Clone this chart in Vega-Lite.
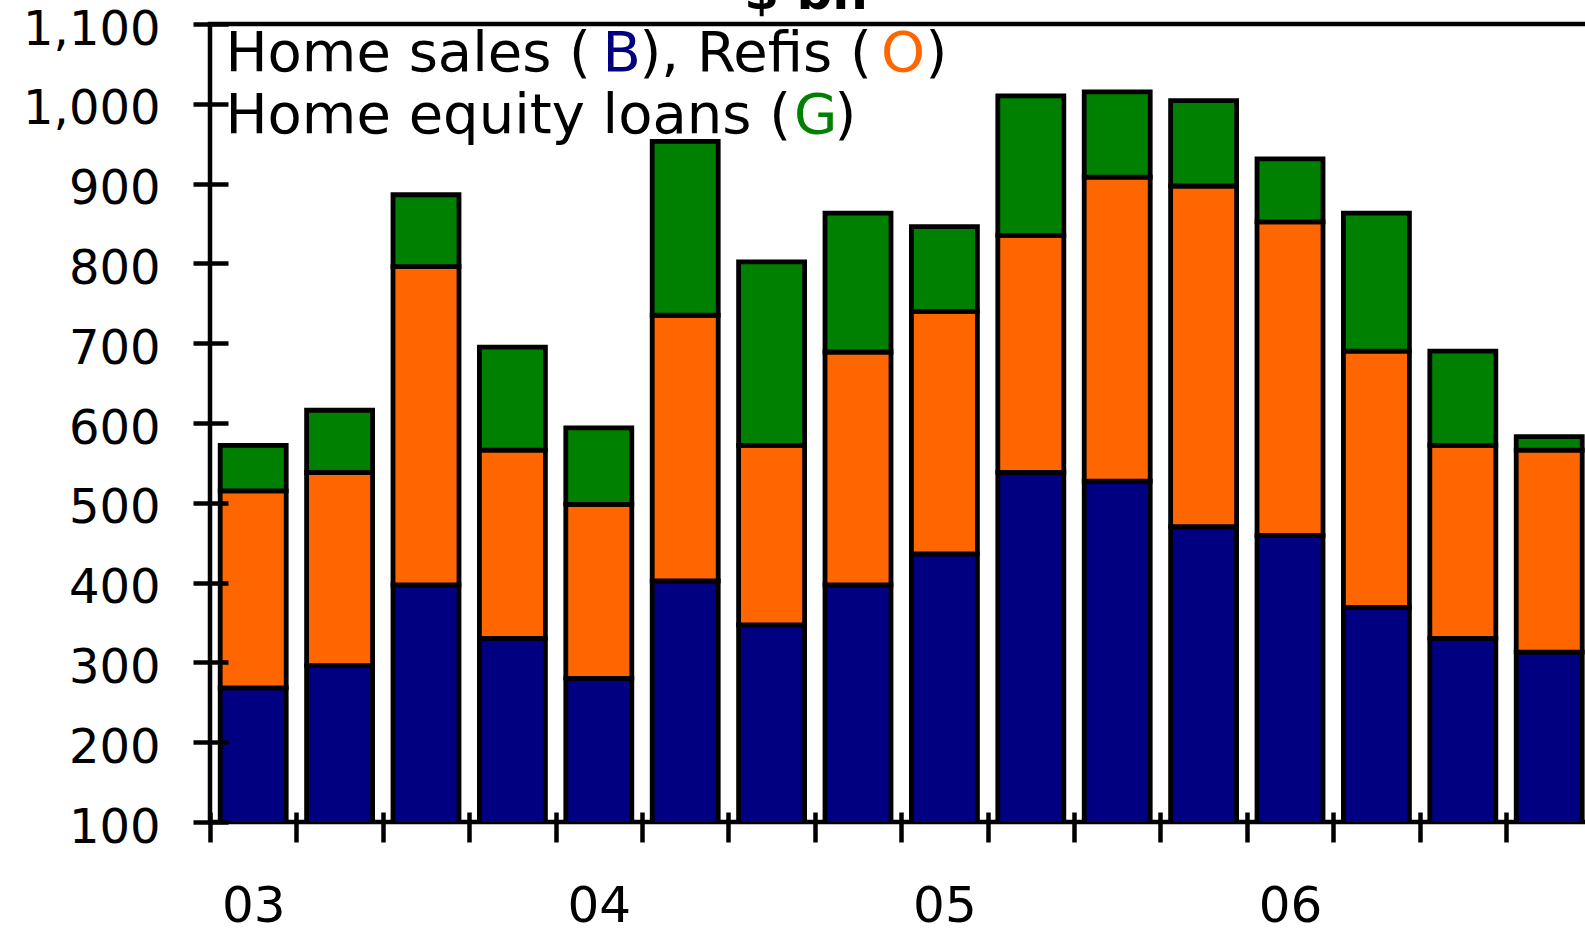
{
  "$schema": "https://vega.github.io/schema/vega-lite/v6.json",
  "autosize": {"type": "none"},
  "width": 1380,
  "height": 798,
  "padding": {"left": 210, "top": 24, "right": 0, "bottom": 106},
  "background": "white",
  "config": {
    "view": {"stroke": "black", "strokeWidth": 4.5}
  },
  "datasets": {
    "lending": [
      {"quarter": "2003 Q1", "q": 1, "sales": 268, "refis": 247, "equity": 57},
      {"quarter": "2003 Q2", "q": 2, "sales": 296, "refis": 242, "equity": 78},
      {"quarter": "2003 Q3", "q": 3, "sales": 397, "refis": 399, "equity": 90},
      {"quarter": "2003 Q4", "q": 4, "sales": 330, "refis": 236, "equity": 129},
      {"quarter": "2004 Q1", "q": 5, "sales": 280, "refis": 218, "equity": 96},
      {"quarter": "2004 Q2", "q": 6, "sales": 402, "refis": 333, "equity": 218},
      {"quarter": "2004 Q3", "q": 7, "sales": 347, "refis": 225, "equity": 230},
      {"quarter": "2004 Q4", "q": 8, "sales": 397, "refis": 292, "equity": 174},
      {"quarter": "2005 Q1", "q": 9, "sales": 436, "refis": 304, "equity": 106},
      {"quarter": "2005 Q2", "q": 10, "sales": 538, "refis": 297, "equity": 175},
      {"quarter": "2005 Q3", "q": 11, "sales": 527, "refis": 381, "equity": 107},
      {"quarter": "2005 Q4", "q": 12, "sales": 470, "refis": 427, "equity": 107},
      {"quarter": "2006 Q1", "q": 13, "sales": 459, "refis": 393, "equity": 79},
      {"quarter": "2006 Q2", "q": 14, "sales": 369, "refis": 321, "equity": 173},
      {"quarter": "2006 Q3", "q": 15, "sales": 330, "refis": 242, "equity": 118},
      {"quarter": "2006 Q4", "q": 16, "sales": 313, "refis": 253, "equity": 17}
    ]
  },
  "layer": [
    {
      "data": {"name": "lending"},
      "transform": [
        {"fold": ["sales", "refis", "equity"], "as": ["series", "bn"]}
      ],
      "mark": {"type": "bar", "size": 66, "stroke": "black", "strokeWidth": 4.8, "clip": true},
      "encoding": {
        "x": {
          "field": "q",
          "type": "quantitative",
          "scale": {"domain": [0.5, 16.472], "nice": false, "zero": false, "padding": 0},
          "axis": {
            "values": [0.5, 1, 1.5, 2.5, 3.5, 4.5, 5, 5.5, 6.5, 7.5, 8.5, 9, 9.5, 10.5, 11.5, 12.5, 13, 13.5, 14.5, 15.5],
            "labelExpr": "datum.value === 1 ? '03' : datum.value === 5 ? '04' : datum.value === 9 ? '05' : datum.value === 13 ? '06' : ''",
            "offset": -10,
            "domain": false,
            "grid": false,
            "tickSize": 30,
            "tickWidth": 4.5,
            "tickColor": "black",
            "tickOpacity": {"condition": {"test": "datum.value % 1 === 0", "value": 0}, "value": 1},
            "labelPadding": 39,
            "labelFont": "DejaVu Sans",
            "labelFontSize": 50,
            "labelColor": "black",
            "labelOverlap": false,
            "labelFlush": false,
            "labelBound": false,
            "title": null,
            "zindex": 1
          }
        },
        "y": {
          "field": "bn",
          "type": "quantitative",
          "stack": "zero",
          "scale": {"domain": [100, 1100], "nice": false, "zero": false, "padding": 0},
          "axis": {
            "values": [100, 200, 300, 400, 500, 600, 700, 800, 900, 1000, 1100],
            "format": ",.0f",
            "offset": -18,
            "domain": false,
            "grid": false,
            "tickSize": 35,
            "tickWidth": 4.5,
            "tickColor": "black",
            "labelPadding": 33,
            "labelFont": "DejaVu Sans",
            "labelFontSize": 48,
            "labelColor": "black",
            "labelOffset": 6,
            "labelOverlap": false,
            "labelBound": false,
            "title": null,
            "zindex": 1
          }
        },
        "color": {
          "field": "series",
          "type": "nominal",
          "scale": {
            "domain": ["sales", "refis", "equity"],
            "range": ["#000080", "#FF6600", "#008000"]
          },
          "legend": null
        }
      }
    },
    {
      "data": {"values": [{}]},
      "mark": {"type": "text", "align": "center", "baseline": "alphabetic", "font": "DejaVu Sans", "fontSize": 50, "fontWeight": "bold", "color": "black"},
      "encoding": {"x": {"datum": 7.398}, "y": {"datum": 1118.8}, "text": {"value": "$ bn"}}
    },
    {
      "data": {"values": [{}]},
      "mark": {"type": "text", "align": "left", "baseline": "alphabetic", "font": "DejaVu Sans", "fontSize": 56, "color": "black"},
      "encoding": {"x": {"datum": 0.679}, "y": {"datum": 1041}, "text": {"value": "Home sales ("}}
    },
    {
      "data": {"values": [{}]},
      "mark": {"type": "text", "align": "left", "baseline": "alphabetic", "font": "DejaVu Sans", "fontSize": 56, "color": "#000080"},
      "encoding": {"x": {"datum": 5.043}, "y": {"datum": 1041}, "text": {"value": "B"}}
    },
    {
      "data": {"values": [{}]},
      "mark": {"type": "text", "align": "left", "baseline": "alphabetic", "font": "DejaVu Sans", "fontSize": 56, "color": "black"},
      "encoding": {"x": {"datum": 5.471}, "y": {"datum": 1041}, "text": {"value": "), Refis ("}}
    },
    {
      "data": {"values": [{}]},
      "mark": {"type": "text", "align": "left", "baseline": "alphabetic", "font": "DejaVu Sans", "fontSize": 56, "color": "#FF6600"},
      "encoding": {"x": {"datum": 8.266}, "y": {"datum": 1041}, "text": {"value": "O"}}
    },
    {
      "data": {"values": [{}]},
      "mark": {"type": "text", "align": "left", "baseline": "alphabetic", "font": "DejaVu Sans", "fontSize": 56, "color": "black"},
      "encoding": {"x": {"datum": 8.781}, "y": {"datum": 1041}, "text": {"value": ")"}}
    },
    {
      "data": {"values": [{}]},
      "mark": {"type": "text", "align": "left", "baseline": "alphabetic", "font": "DejaVu Sans", "fontSize": 56, "color": "black"},
      "encoding": {"x": {"datum": 0.679}, "y": {"datum": 964}, "text": {"value": "Home equity loans ("}}
    },
    {
      "data": {"values": [{}]},
      "mark": {"type": "text", "align": "left", "baseline": "alphabetic", "font": "DejaVu Sans", "fontSize": 56, "color": "#008000"},
      "encoding": {"x": {"datum": 7.259}, "y": {"datum": 964}, "text": {"value": "G"}}
    },
    {
      "data": {"values": [{}]},
      "mark": {"type": "text", "align": "left", "baseline": "alphabetic", "font": "DejaVu Sans", "fontSize": 56, "color": "black"},
      "encoding": {"x": {"datum": 7.728}, "y": {"datum": 964}, "text": {"value": ")"}}
    }
  ]
}
